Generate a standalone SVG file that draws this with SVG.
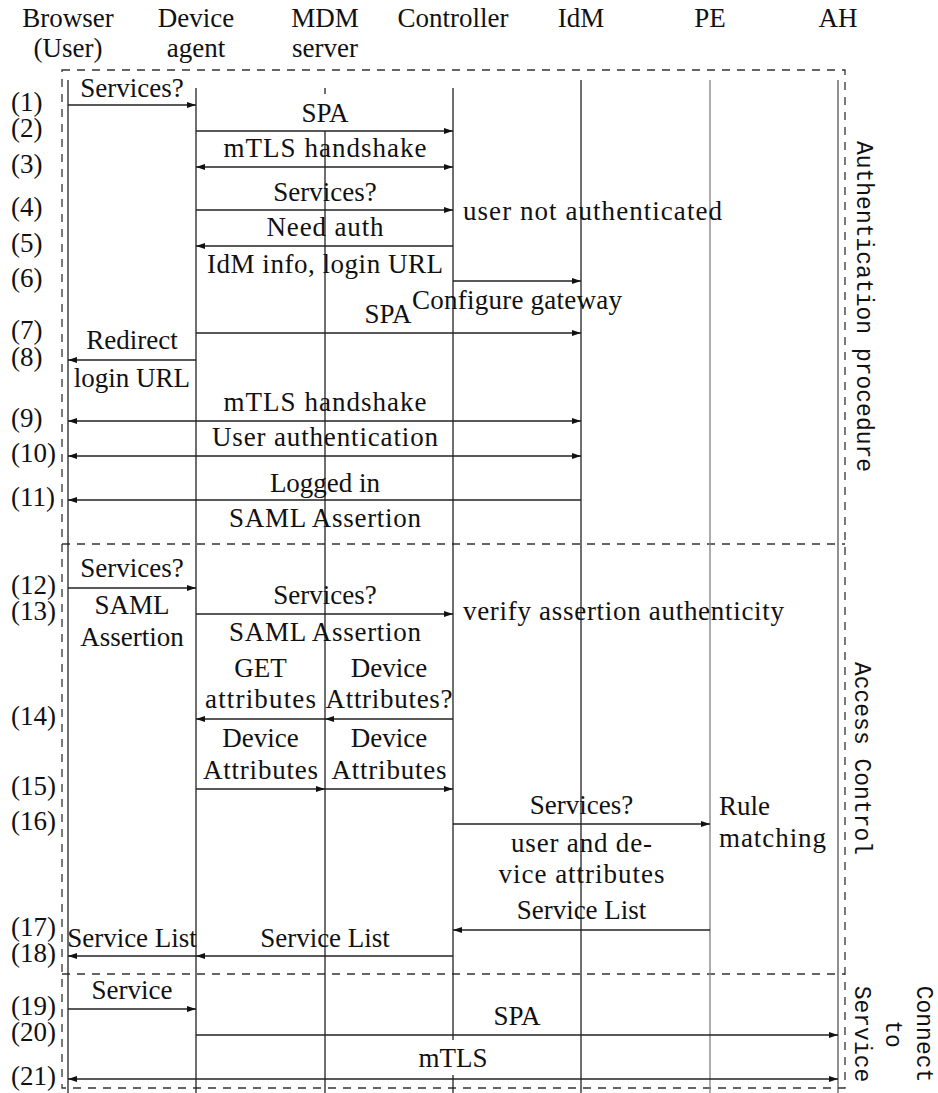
<svg xmlns="http://www.w3.org/2000/svg" width="938" height="1093" viewBox="0 0 938 1093">
<defs>
<marker id="ah" viewBox="0 0 9 6" refX="9" refY="3" markerWidth="9" markerHeight="6" markerUnits="userSpaceOnUse" orient="auto-start-reverse"><path d="M0,0 L9,3 L0,6 z" fill="#111"/></marker>
<style>
.t{font-family:'Liberation Serif','DejaVu Serif',serif;font-size:27px;fill:#111}
.c{text-anchor:middle}
.mono{font-family:'Liberation Mono','DejaVu Sans Mono',monospace;font-size:23px;text-anchor:middle;fill:#111}
.life{stroke:#222;stroke-width:1.3;fill:none}
.gray{stroke:#808080}
.dgray{stroke:#555}
.dash{stroke:#333;stroke-width:1.3;fill:none;stroke-dasharray:8 7}
.msg{stroke:#222;stroke-width:1.3;fill:none;marker-end:url(#ah)}
.both{marker-start:url(#ah)}
</style>
</defs>
<rect width="938" height="1093" fill="#fff"/>

<g id="frame">
<rect class="dash" x="62" y="70" width="783" height="1018"/>
<line class="dash" x1="62" y1="544" x2="845" y2="544"/>
<line class="dash" x1="62" y1="974" x2="845" y2="974"/>
<text class="mono" transform="translate(857,306.5) rotate(90)">Authentication procedure</text>
<text class="mono" transform="translate(855,758.5) rotate(90)">Access Control</text>
<text class="mono" transform="translate(917,1034) rotate(90)">Connect</text>
<text class="mono" transform="translate(886,1034) rotate(90)">to</text>
<text class="mono" transform="translate(855,1034) rotate(90)">Service</text>
</g>

<g id="browser">
<text class="t c" x="68" y="27">Browser</text>
<text class="t c" x="68" y="57">(User)</text>
<line class="life" x1="68" y1="80" x2="68" y2="1093"/>
</g>
<g id="device-agent">
<text class="t c" x="196" y="27">Device</text>
<text class="t c" x="196" y="57">agent</text>
<line class="life" x1="196" y1="88" x2="196" y2="1093"/>
</g>
<g id="mdm-server">
<text class="t c" x="325" y="27">MDM</text>
<text class="t c" x="325" y="57">server</text>
<line class="life" x1="325" y1="88" x2="325" y2="94"/>
<line class="life" x1="325" y1="131" x2="325" y2="1093"/>
</g>
<g id="controller">
<text class="t c" x="453" y="27">Controller</text>
<line class="life" x1="453" y1="88" x2="453" y2="1040"/>
<line class="life" x1="453" y1="1075" x2="453" y2="1093"/>
</g>
<g id="idm">
<text class="t c" x="581" y="27">IdM</text>
<line class="life" x1="581" y1="80" x2="581" y2="1093"/>
</g>
<g id="pe">
<text class="t c" x="710" y="27">PE</text>
<line class="life gray" x1="710" y1="80" x2="710" y2="1093"/>
</g>
<g id="ah-node">
<text class="t c" x="838" y="27">AH</text>
<line class="life dgray" x1="838" y1="80" x2="838" y2="1093"/>
</g>

<g id="connectors">
<path class="msg" d="M68,105 H196"/>
<path class="msg" d="M196,131 H453"/>
<path class="msg both" d="M196,167 H453"/>
<path class="msg" d="M196,210 H453"/>
<path class="msg" d="M453,246 H196"/>
<path class="msg" d="M453,281 H581"/>
<path class="msg" d="M196,333 H581"/>
<path class="msg" d="M196,360 H68"/>
<path class="msg both" d="M68,421 H581"/>
<path class="msg both" d="M68,456 H581"/>
<path class="msg" d="M581,500 H68"/>
<path class="msg" d="M68,588 H196"/>
<path class="msg" d="M196,614 H453"/>
<path class="msg" d="M453,719 H325"/>
<path class="msg" d="M325,719 H196"/>
<path class="msg" d="M196,789 H325"/>
<path class="msg" d="M325,789 H453"/>
<path class="msg" d="M453,824 H710"/>
<path class="msg" d="M710,930 H453"/>
<path class="msg" d="M453,956 H196"/>
<path class="msg" d="M196,956 H68"/>
<path class="msg" d="M68,1009 H196"/>
<path class="msg" d="M196,1035 H838"/>
<path class="msg both" d="M68,1079 H838"/>
</g>

<g id="labels">
<text class="t c" x="132" y="97">Services?</text>
<text class="t c" x="325" y="122">SPA</text>
<text class="t c" x="325" y="157" textLength="203">mTLS handshake</text>
<text class="t c" x="325" y="201">Services?</text>
<text class="t c" x="325" y="236" textLength="117">Need auth</text>
<text class="t c" x="325" y="273" textLength="236">IdM info, login URL</text>
<text class="t" x="463" y="220" textLength="259">user not authenticated</text>
<text class="t c" x="517" y="309" textLength="210">Configure gateway</text>
<text class="t c" x="388" y="323">SPA</text>
<text class="t c" x="132" y="349">Redirect</text>
<text class="t c" x="132" y="387">login URL</text>
<text class="t c" x="325" y="411" textLength="203">mTLS handshake</text>
<text class="t c" x="325" y="446" textLength="226">User authentication</text>
<text class="t c" x="325" y="492">Logged in</text>
<text class="t c" x="325" y="527" textLength="192">SAML Assertion</text>
<text class="t c" x="132" y="577">Services?</text>
<text class="t c" x="132" y="614">SAML</text>
<text class="t c" x="132" y="646">Assertion</text>
<text class="t c" x="325" y="604">Services?</text>
<text class="t c" x="325" y="641" textLength="192">SAML Assertion</text>
<text class="t" x="463" y="620" textLength="321">verify assertion authenticity</text>
<text class="t c" x="260.5" y="677">GET</text>
<text class="t c" x="260.5" y="708" textLength="111">attributes</text>
<text class="t c" x="389" y="677">Device</text>
<text class="t c" x="389" y="708" textLength="127">Attributes?</text>
<text class="t c" x="260.5" y="747">Device</text>
<text class="t c" x="260.5" y="779" textLength="115">Attributes</text>
<text class="t c" x="389" y="747">Device</text>
<text class="t c" x="389" y="779" textLength="115">Attributes</text>
<text class="t c" x="581.5" y="814">Services?</text>
<text class="t c" x="581.5" y="852" textLength="141">user and de-</text>
<text class="t c" x="581.5" y="883" textLength="166">vice attributes</text>
<text class="t" x="719" y="815">Rule</text>
<text class="t" x="719" y="847" textLength="107">matching</text>
<text class="t c" x="581.5" y="919">Service List</text>
<text class="t c" x="132" y="947">Service List</text>
<text class="t c" x="325" y="947">Service List</text>
<text class="t c" x="132" y="999">Service</text>
<text class="t c" x="517" y="1025">SPA</text>
<text class="t c" x="453" y="1067">mTLS</text>
</g>

<g id="steps">
<text class="t" x="11" y="111">(1)</text>
<text class="t" x="11" y="137">(2)</text>
<text class="t" x="11" y="173">(3)</text>
<text class="t" x="11" y="216">(4)</text>
<text class="t" x="11" y="252">(5)</text>
<text class="t" x="11" y="287">(6)</text>
<text class="t" x="11" y="339">(7)</text>
<text class="t" x="11" y="366">(8)</text>
<text class="t" x="11" y="427">(9)</text>
<text class="t" x="11" y="462">(10)</text>
<text class="t" x="11" y="506">(11)</text>
<text class="t" x="11" y="594">(12)</text>
<text class="t" x="11" y="620">(13)</text>
<text class="t" x="11" y="725">(14)</text>
<text class="t" x="11" y="795">(15)</text>
<text class="t" x="11" y="830">(16)</text>
<text class="t" x="11" y="936">(17)</text>
<text class="t" x="11" y="962">(18)</text>
<text class="t" x="11" y="1015">(19)</text>
<text class="t" x="11" y="1041">(20)</text>
<text class="t" x="11" y="1085">(21)</text>
</g>
</svg>
